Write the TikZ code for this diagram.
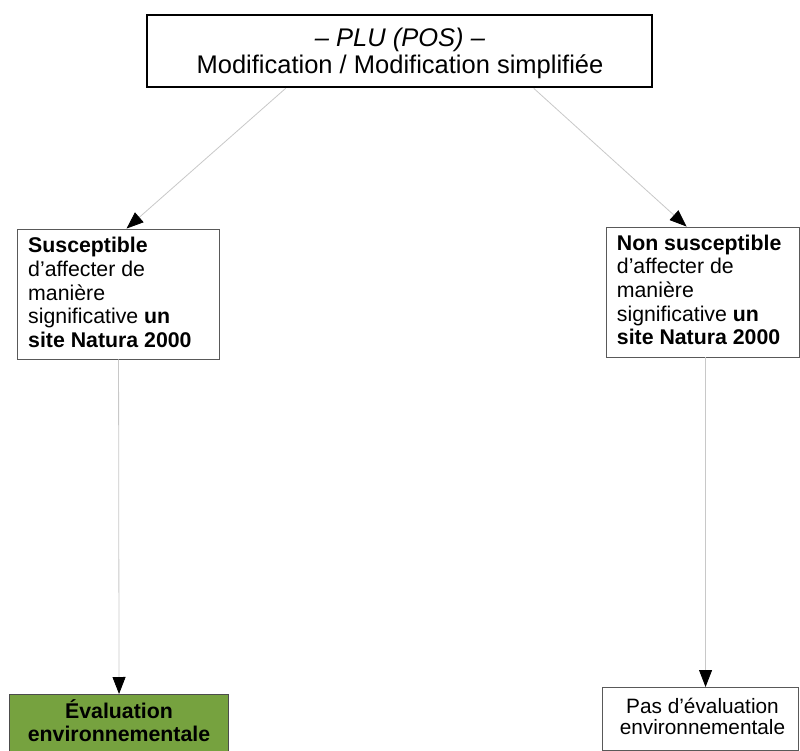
\documentclass[tikz,border=0pt]{standalone}
\usepackage{fontspec}
\setmainfont{Liberation Sans}
\usetikzlibrary{arrows.meta,calc}
\definecolor{evalgreen}{HTML}{76A23F}
\definecolor{linegray}{HTML}{C8C8C8}
\begin{document}
\begin{tikzpicture}[x=1pt,y=-1pt,
  box/.style={draw=black!65, line width=0.9pt, fill=white, inner sep=0pt},
  conn/.style={draw=linegray, line width=0.8pt, -{Triangle[length=17pt,width=13pt,color=black]}},
  txt/.style={font=\fontsize{21.3}{23.6}\selectfont, align=left, anchor=south west, inner sep=0pt}
]
\useasboundingbox (0,0) rectangle (800,751);
% top box
\node[draw=black, line width=2.6pt, minimum width=505pt, minimum height=72pt, inner sep=0pt] (top) at (399.5,51) {};
\node[font=\fontsize{25.5}{27.3}\selectfont, align=center, anchor=north, inner sep=0pt] (toptxt) at (400,27.6)
  {\textit{– PLU (POS) –}\\Modification / Modification simplifiée};
% left box
\node[box, minimum width=202pt, minimum height=130pt] (left) at (118,294) {};
\node[txt] (lefttxt) at (28,347.7) {\textbf{Susceptible}\\d’affecter de\\manière\\significative \textbf{un}\\\textbf{site Natura 2000}};
% right box
\node[box, minimum width=193pt, minimum height=130pt] (right) at (702.5,292) {};
\node[txt] (righttxt) at (616.7,345.2) {\textbf{Non susceptible}\\d’affecter de\\manière\\significative \textbf{un}\\\textbf{site Natura 2000}};
% bottom left
\node[draw=black!70, line width=0.9pt, fill=evalgreen, minimum width=219pt, minimum height=70pt, inner sep=0pt, anchor=north] (eval) at (118.5,694) {};
\node[font=\fontsize{21.3}{22.4}\selectfont\bfseries, align=center, anchor=south, inner sep=0pt] (evaltxt) at (119,741.7)
  {Évaluation\\environnementale};
% bottom right
\node[box, minimum width=196pt, minimum height=63pt, anchor=north] (pas) at (700,687) {};
\node[font=\fontsize{20.8}{21.2}\selectfont, align=center, anchor=south, inner sep=0pt] (pastxt) at (702.5,735.2)
  {Pas d’évaluation\\environnementale};
% connectors
\coordinate (t1) at ($(top.south west)+(140,0)$);
\coordinate (t2) at ($(top.south west)+(388,0)$);
\draw[conn] (t1) -- ($(left.north west)+(110,0)$);
\draw[conn] (t2) -- ($(right.north west)+(81,0)$);
\draw[conn] ($(left.south west)+(102,0)$) -- ($(eval.north west)+(110.5,0)$);
\draw[conn] ($(right.south west)+(100,0)$) -- ($(pas.north west)+(104,0)$);
\end{tikzpicture}
\end{document}
